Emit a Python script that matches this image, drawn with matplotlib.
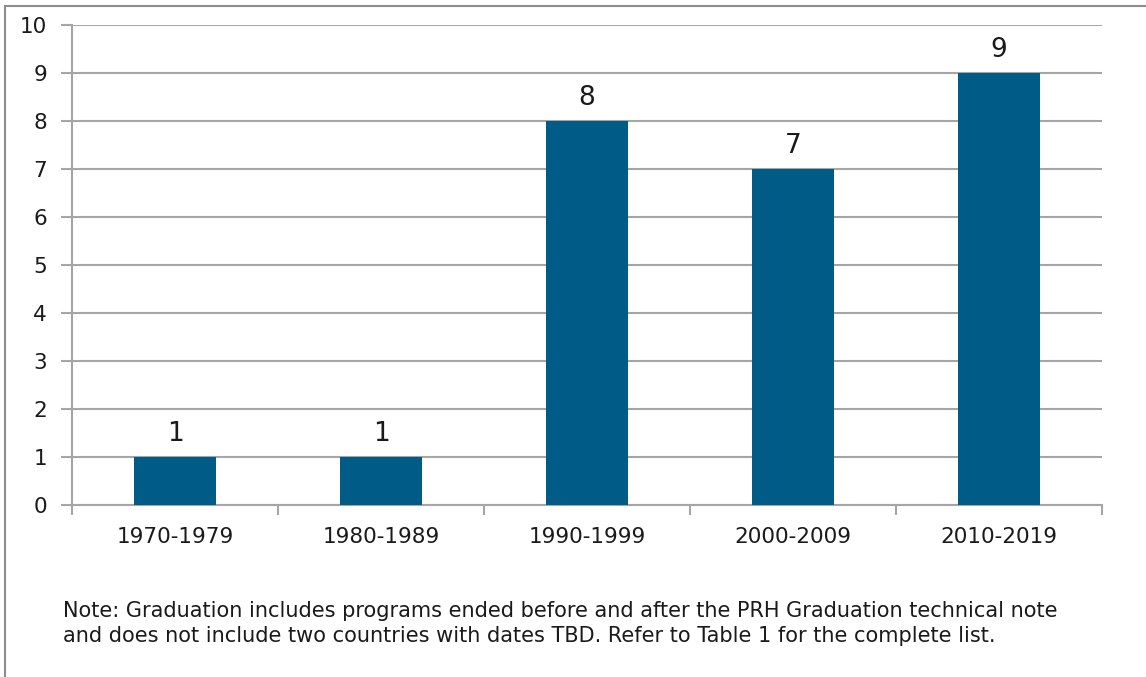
import matplotlib.pyplot as plt
from matplotlib.lines import Line2D

decades = ["1970-1979", "1980-1989", "1990-1999", "2000-2009", "2010-2019"]
counts = [1, 1, 8, 7, 9]
yticks = list(range(0, 11))

note_lines = [
    "Note: Graduation includes programs ended before and after the PRH Graduation technical note",
    "and does not include two countries with dates TBD. Refer to Table 1 for the complete list.",
]

plt.rcParams['font.family'] = ['DejaVu Sans']

W, H = 1146, 677
fig = plt.figure(figsize=(W / 100, H / 100), dpi=100, facecolor='white')
ax = fig.add_axes([72 / W, 1 - 505 / H, (1102 - 72) / W, (505 - 25) / H])

grid_c = '#A6A6A6'
txt_c = '#1A1A1A'
x = range(len(decades))
ax.bar(x, counts, width=0.4, color='#005C87', zorder=3)
for i, v in enumerate(counts):
    ax.annotate(str(v), (i, v), xytext=(0, 7), textcoords='offset points',
                ha='center', va='bottom', fontsize=19, color=txt_c)

ax.set_xlim(-0.5, len(decades) - 0.5)
ax.set_ylim(0, 10)
ax.set_yticks(yticks)
ax.set_yticklabels([str(t) for t in yticks], fontsize=15.5, color=txt_c)
ax.yaxis.grid(True, color=grid_c, lw=1.5, zorder=0)
ax.tick_params(axis='y', length=8, width=1.5, color=grid_c, pad=10)

ax.set_xticks(list(x))
ax.set_xticklabels(decades, fontsize=15.5, color=txt_c)
ax.tick_params(axis='x', length=0, pad=16)
ax.set_xticks([i - 0.5 for i in range(len(decades) + 1)], minor=True)
ax.tick_params(axis='x', which='minor', length=7, width=1.5, color=grid_c)

for s in ['top', 'right']:
    ax.spines[s].set_visible(False)
for s in ['left', 'bottom']:
    ax.spines[s].set_color(grid_c)
    ax.spines[s].set_linewidth(1.5)

# outer frame (top and left edges)
fig.add_artist(Line2D([5 / W, 5 / W], [0, 1 - 6 / H], color='#8C8C8C', lw=1.5, transform=fig.transFigure))
fig.add_artist(Line2D([5 / W, 1], [1 - 6 / H, 1 - 6 / H], color='#8C8C8C', lw=1.5, transform=fig.transFigure))

for k, line in enumerate(note_lines):
    fig.text(63 / W, 1 - (617 + 24.5 * k) / H, line, fontsize=15, color=txt_c,
             va='baseline', ha='left')

fig.savefig('out.png', dpi=100, facecolor='white')
